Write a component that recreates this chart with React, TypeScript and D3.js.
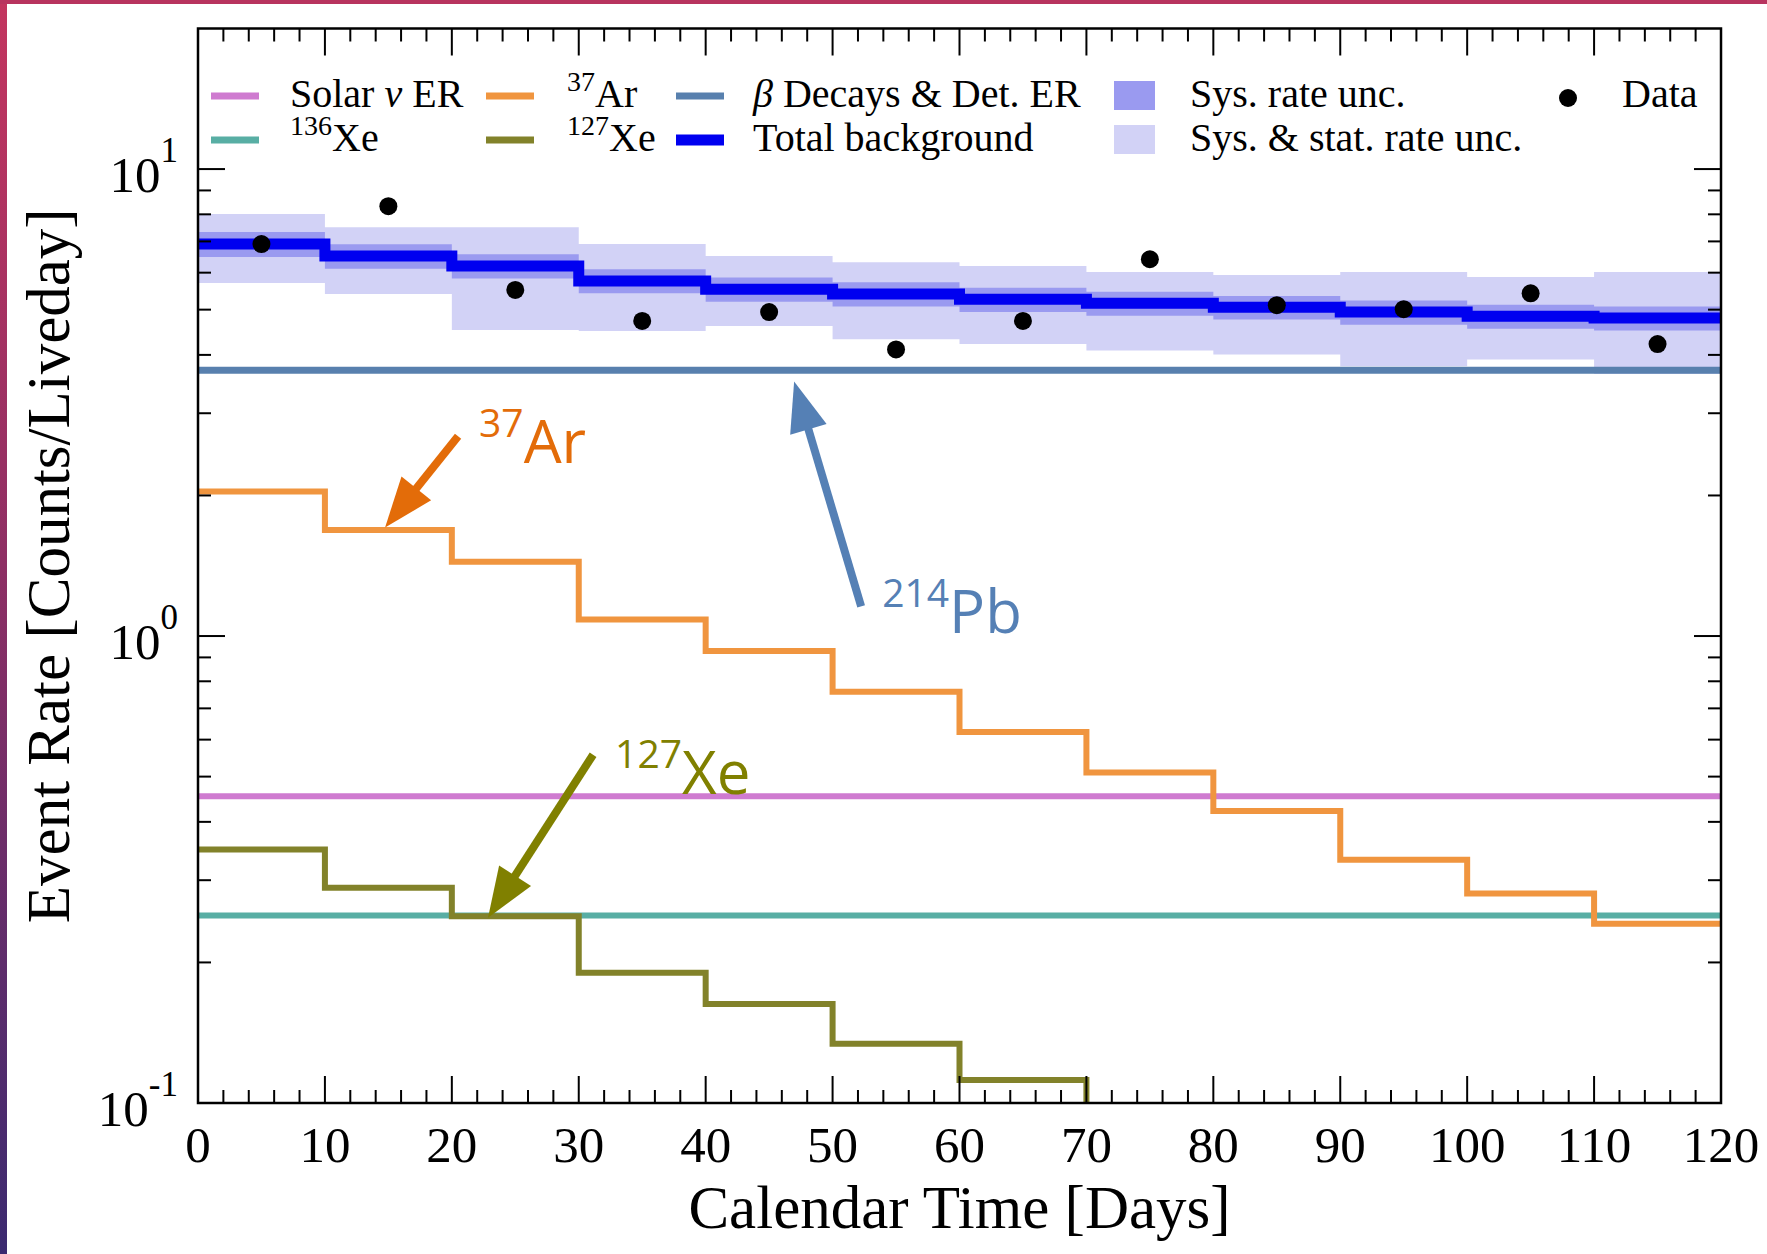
import React from 'react';
import * as d3 from 'd3';

// ---------- data ----------
const binEdges = [0, 10, 20, 30, 40, 50, 60, 70, 80, 90, 100, 110, 120];
const totalBackground = [6.91, 6.51, 6.2, 5.76, 5.53, 5.4, 5.26, 5.16, 5.06, 4.94, 4.84, 4.8];
const sysHigh = [7.33, 6.9, 6.57, 6.1, 5.86, 5.72, 5.57, 5.46, 5.35, 5.23, 5.12, 5.08];
const sysLow = [6.48, 6.12, 5.83, 5.42, 5.2, 5.08, 4.94, 4.85, 4.76, 4.64, 4.55, 4.51];
const statHigh = [8.01, 7.51, 7.51, 6.91, 6.51, 6.32, 6.2, 6.02, 5.93, 6.02, 5.87, 6.02];
const statLow = [5.7, 5.4, 4.52, 4.5, 4.61, 4.32, 4.22, 4.09, 4.01, 3.78, 3.91, 3.64];
const ar37 = [2.04, 1.686, 1.443, 1.085, 0.929, 0.76, 0.623, 0.51, 0.422, 0.332, 0.281, 0.242];
const xe127 = [0.349, 0.289, 0.251, 0.19, 0.163, 0.134, 0.112];
const solarNu = 0.454;
const xe136 = 0.252;
const betaDecays = 3.71;
const dataDays = [5, 15, 25, 35, 45, 55, 65, 75, 85, 95, 105, 115];
const dataRates = [6.91, 8.33, 5.51, 4.73, 4.94, 4.11, 4.73, 6.41, 5.11, 5.01, 5.42, 4.22];
const xTicks = [0, 10, 20, 30, 40, 50, 60, 70, 80, 90, 100, 110, 120];
const yMajor = [0.1, 1, 10];
const yExp = ['-1', '0', '1'];

// ---------- layout ----------
const W = 1767;
const H = 1254;
const L = 198, R = 1721, T = 28.5, B = 1103;
const SERIF = '"Liberation Serif", "Times New Roman", serif';
const SANS = '"Open Sans", "Noto Sans", sans-serif';

const C = {
  stat: '#d2d2f6',
  sys: '#9a9af0',
  total: '#0000f0',
  beta: '#5880ae',
  ar: '#f0953f',
  xe127: '#82822a',
  xe136: '#58aea4',
  solar: '#cf7bd0',
};

const x = d3.scaleLinear().domain([0, 120]).range([L, R]);
const y = d3.scaleLog().domain([0.1, 20]).range([B, T]);

function stepPoints(vals: number[]): [number, number][] {
  const pts: [number, number][] = vals.map((v, i) => [binEdges[i], v]);
  pts.push([binEdges[vals.length], vals[vals.length - 1]]);
  return pts;
}

const stepLine = d3
  .line<[number, number]>()
  .x((d) => x(d[0]))
  .y((d) => y(d[1]))
  .curve(d3.curveStepAfter);

function bandPath(lo: number[], hi: number[]) {
  const pts = lo.map((v, i) => ({ e: binEdges[i], lo: v, hi: hi[i] }));
  pts.push({ e: binEdges[lo.length], lo: lo[lo.length - 1], hi: hi[hi.length - 1] });
  return d3
    .area<{ e: number; lo: number; hi: number }>()
    .x((d) => x(d.e))
    .y0((d) => y(d.lo))
    .y1((d) => y(d.hi))
    .curve(d3.curveStepAfter)(pts) as string;
}

const annotations = [
  { sup: '37', label: 'Ar', color: '#e36c09', tail: [20.49, 2.677], tip: [14.74, 1.708], dx: 21, dy: 1 },
  { sup: '214', label: 'Pb', color: '#5580b5', tail: [52.25, 1.157], tip: [46.97, 3.51], dx: 21, dy: 1 },
  { sup: '127', label: 'Xe', color: '#808000', tail: [31.13, 0.557], tip: [22.85, 0.2493], dx: 22, dy: 13 },
];

function Arrow({ a }: { a: (typeof annotations)[number] }) {
  const x1 = x(a.tail[0]), y1 = y(a.tail[1]);
  const x2 = x(a.tip[0]), y2 = y(a.tip[1]);
  const len = Math.hypot(x2 - x1, y2 - y1);
  const ux = (x2 - x1) / len, uy = (y2 - y1) / len;
  const headL = 50, headW = 19;
  const bx = x2 - ux * headL, by = y2 - uy * headL;
  const nx = -uy, ny = ux;
  const head = `M${x2},${y2}L${bx + nx * headW},${by + ny * headW}L${bx - nx * headW},${by - ny * headW}Z`;
  return (
    <g>
      <line x1={x1} y1={y1} x2={bx + ux * 3} y2={by + uy * 3} stroke={a.color} strokeWidth={8} />
      <path d={head} fill={a.color} />
      <text x={x1 + a.dx} y={y1 + a.dy} fill={a.color} fontFamily={SANS} fontSize={39}>
        {a.sup}
        <tspan dy={26} fontSize={60}>
          {a.label}
        </tspan>
      </text>
    </g>
  );
}

export default function App() {
  const xMinor: number[] = d3.range(0, 121, 2).filter((d) => d % 10 !== 0);
  const yMinor: number[] = [];
  [0.1, 1, 10].forEach((dec) => {
    for (let k = 2; k <= 9; k++) {
      const v = dec * k;
      if (v < 19) yMinor.push(v);
    }
  });
  const tickColor = '#000';
  const majL = 27, minL = 13;

  const legendR1 = 96, legendR2 = 140;

  return (
    <svg
      width={W}
      height={H}
      style={{ position: 'absolute', left: 0, top: 0, background: '#fff' }}
      xmlns="http://www.w3.org/2000/svg"
    >
      <defs>
        <linearGradient id="edge" x1="0" y1="0" x2="0" y2="1">
          <stop offset="0" stopColor="#c3355f" />
          <stop offset="0.45" stopColor="#8e2f64" />
          <stop offset="1" stopColor="#3b2a70" />
        </linearGradient>
        <clipPath id="plotClip">
          <rect x={L} y={T} width={R - L} height={B - T} />
        </clipPath>
      </defs>
      <rect x={0} y={0} width={W} height={H} fill="#fff" />
      <rect x={0} y={0} width={7} height={H} fill="url(#edge)" />
      <rect x={0} y={0} width={W} height={4} fill="#b8345f" />

      <g clipPath="url(#plotClip)">
        {/* uncertainty bands */}
        <path d={bandPath(statLow, statHigh)} fill={C.stat} />
        <path d={bandPath(sysLow, sysHigh)} fill={C.sys} />
        {/* horizontal components */}
        <line x1={L} x2={R} y1={y(betaDecays)} y2={y(betaDecays)} stroke={C.beta} strokeWidth={7} />
        <line x1={L} x2={R} y1={y(solarNu)} y2={y(solarNu)} stroke={C.solar} strokeWidth={6} />
        <line x1={L} x2={R} y1={y(xe136)} y2={y(xe136)} stroke={C.xe136} strokeWidth={6} />
        {/* step components */}
        <path d={stepLine(stepPoints(ar37)) as string} fill="none" stroke={C.ar} strokeWidth={6} />
        <path
          d={(stepLine(stepPoints(xe127)) as string) + `V${y(y.domain()[0])}`}
          fill="none"
          stroke={C.xe127}
          strokeWidth={6}
        />
        <path d={stepLine(stepPoints(totalBackground)) as string} fill="none" stroke={C.total} strokeWidth={11} />
        {/* data */}
        {dataDays.map((d, i) => (
          <circle key={i} cx={x(d)} cy={y(dataRates[i])} r={9} fill="#000" />
        ))}
      </g>

      {/* ticks */}
      <g stroke={tickColor} strokeWidth={2}>
        {xTicks.map((t) => (
          <g key={'xt' + t}>
            <line x1={x(t)} x2={x(t)} y1={B} y2={B - majL} />
            <line x1={x(t)} x2={x(t)} y1={T} y2={T + majL} />
          </g>
        ))}
        {xMinor.map((t) => (
          <g key={'xm' + t}>
            <line x1={x(t)} x2={x(t)} y1={B} y2={B - minL} />
            <line x1={x(t)} x2={x(t)} y1={T} y2={T + minL} />
          </g>
        ))}
        {yMajor.map((t) => (
          <g key={'yt' + t}>
            <line x1={L} x2={L + majL} y1={y(t)} y2={y(t)} />
            <line x1={R} x2={R - majL} y1={y(t)} y2={y(t)} />
          </g>
        ))}
        {yMinor.map((t) => (
          <g key={'ym' + t}>
            <line x1={L} x2={L + minL} y1={y(t)} y2={y(t)} />
            <line x1={R} x2={R - minL} y1={y(t)} y2={y(t)} />
          </g>
        ))}
      </g>
      <rect x={L} y={T} width={R - L} height={B - T} fill="none" stroke="#000" strokeWidth={2.5} />

      {/* tick labels */}
      <g fontFamily={SERIF} fill="#000">
        {xTicks.map((t) => (
          <text key={'xl' + t} x={x(t)} y={1162} fontSize={51} textAnchor="middle">
            {t}
          </text>
        ))}
        {yMajor.map((t, i) => (
          <text key={'yl' + t} x={178} y={y(t) + 23} fontSize={51} textAnchor="end">
            10
            <tspan dy={-30} fontSize={35}>
              {yExp[i]}
            </tspan>
          </text>
        ))}
        <text x={(L + R) / 2} y={1228} fontSize={61} textAnchor="middle">
          Calendar Time [Days]
        </text>
        <text
          transform={`translate(69,${(T + B) / 2}) rotate(-90)`}
          fontSize={61}
          textAnchor="middle"
        >
          Event Rate [Counts/Liveday]
        </text>
      </g>

      {/* legend */}
      <g fontFamily={SERIF} fontSize={40} fill="#000">
        <line x1={211} x2={259} y1={legendR1} y2={legendR1} stroke={C.solar} strokeWidth={7} />
        <text x={290} y={legendR1 + 11}>
          Solar <tspan fontStyle="italic">ν</tspan> ER
        </text>
        <line x1={211} x2={259} y1={legendR2} y2={legendR2} stroke={C.xe136} strokeWidth={7} />
        <text x={290} y={legendR2 + 11}>
          <tspan fontSize={28} dy={-16}>136</tspan>
          <tspan dy={16}>Xe</tspan>
        </text>

        <line x1={486} x2={534} y1={legendR1} y2={legendR1} stroke={C.ar} strokeWidth={7} />
        <text x={567} y={legendR1 + 11}>
          <tspan fontSize={28} dy={-16}>37</tspan>
          <tspan dy={16}>Ar</tspan>
        </text>
        <line x1={486} x2={534} y1={legendR2} y2={legendR2} stroke={C.xe127} strokeWidth={7} />
        <text x={567} y={legendR2 + 11}>
          <tspan fontSize={28} dy={-16}>127</tspan>
          <tspan dy={16}>Xe</tspan>
        </text>

        <line x1={676} x2={724} y1={legendR1} y2={legendR1} stroke={C.beta} strokeWidth={7} />
        <text x={753} y={legendR1 + 11}>
          <tspan fontStyle="italic">β</tspan> Decays &amp; Det. ER
        </text>
        <line x1={676} x2={724} y1={legendR2} y2={legendR2} stroke={C.total} strokeWidth={11} />
        <text x={753} y={legendR2 + 11}>Total background</text>

        <rect x={1114} y={legendR1 - 15} width={41} height={29} fill={C.sys} />
        <text x={1190} y={legendR1 + 11}>Sys. rate unc.</text>
        <rect x={1114} y={legendR2 - 15} width={41} height={29} fill={C.stat} />
        <text x={1190} y={legendR2 + 11}>Sys. &amp; stat. rate unc.</text>

        <circle cx={1568} cy={legendR1 + 2} r={9} fill="#000" />
        <text x={1622} y={legendR1 + 11}>Data</text>
      </g>

      {/* annotations */}
      {annotations.map((a) => (
        <Arrow key={a.label} a={a} />
      ))}
    </svg>
  );
}
